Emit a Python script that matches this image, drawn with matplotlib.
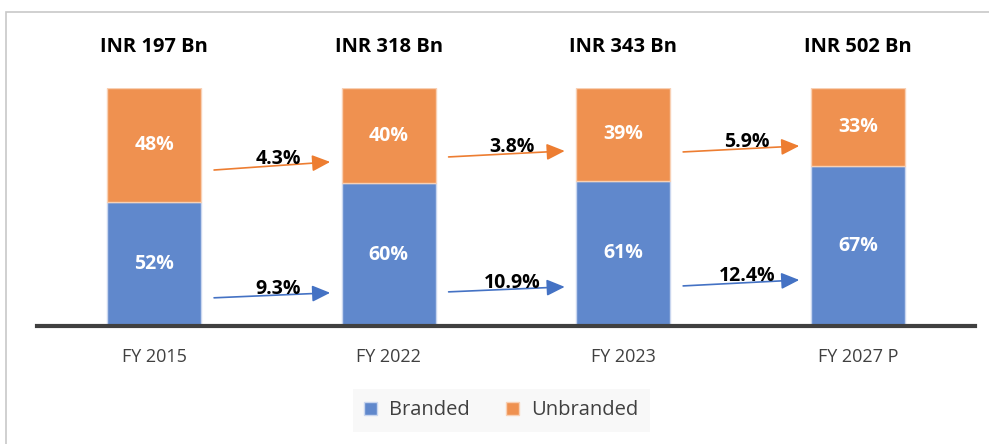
import matplotlib.pyplot as plt
import numpy as np
from matplotlib.patches import Rectangle

plt.rcParams['font.family'] = ['Open Sans', 'DejaVu Sans']

categories = ['FY 2015', 'FY 2022', 'FY 2023', 'FY 2027 P']
totals = ['INR 197 Bn', 'INR 318 Bn', 'INR 343 Bn', 'INR 502 Bn']
branded = [52, 60, 61, 67]
unbranded = [48, 40, 39, 33]
growth_unbranded = ['4.3%', '3.8%', '5.9%']
growth_branded = ['9.3%', '10.9%', '12.4%']

blue = '#6088cc'
orange = '#ef9150'
arrow_blue = '#4472c4'
arrow_orange = '#ed7d31'

fig = plt.figure(figsize=(9.89, 4.44), dpi=100)
ax = fig.add_axes([0.0374, 0.266, 0.9486, 0.536])

x = np.arange(len(categories))
ax.bar(x, branded, width=0.4, color=blue, edgecolor='#c9d6ef', linewidth=1, label='Branded')
ax.bar(x, unbranded, width=0.4, bottom=branded, color=orange, edgecolor='#f8d0b4', linewidth=1, label='Unbranded')

for i in range(len(categories)):
    ax.text(x[i], branded[i] / 2, f'{branded[i]}%', ha='center', va='center',
            color='white', fontsize=14, fontweight='bold')
    ax.text(x[i], branded[i] + unbranded[i] / 2, f'{unbranded[i]}%', ha='center', va='center',
            color='white', fontsize=14, fontweight='bold')
    ax.text(x[i], 117, totals[i], ha='center', va='center', color='black',
            fontsize=14.5, fontweight='bold')
    ax.text(x[i], -13, categories[i], ha='center', va='center', color='#404040', fontsize=13)

# arrow levels (layout only)
orange_lv = [(65.5, 68.9), (71.0, 73.5), (73.1, 75.6)]
blue_lv = [(11.8, 13.9), (14.3, 16.4), (16.8, 19.3)]

for i in range(3):
    x0, x1 = x[i] + 0.255, x[i] + 0.75
    for (y0, y1), col, lab in [(orange_lv[i], arrow_orange, growth_unbranded[i]),
                               (blue_lv[i], arrow_blue, growth_branded[i])]:
        ax.annotate('', xy=(x1, y1), xytext=(x0, y0),
                    arrowprops=dict(arrowstyle='-|>,head_length=1.1,head_width=0.5',
                                    color=col, lw=1.2, shrinkA=0, shrinkB=0))
        xm = x0 + 0.55 * (x1 - x0)
        ym = y0 + 0.55 * (y1 - y0)
        ax.text(xm, ym - 1.5, lab, ha='center', va='bottom', color='black',
                fontsize=14, fontweight='bold')

ax.set_xlim(-0.5, 3.5)
ax.set_ylim(0, 100)
for s in ['top', 'right', 'left']:
    ax.spines[s].set_visible(False)
ax.spines['bottom'].set_color('#404040')
ax.spines['bottom'].set_linewidth(3)
ax.set_xticks([])
ax.set_yticks([])

leg = fig.legend(loc='center', bbox_to_anchor=(0.507, 0.0755), ncol=2, frameon=True,
                 fontsize=14.5, handlelength=0.65, handleheight=0.65, handletextpad=0.6,
                 columnspacing=1.8, borderpad=0.55, borderaxespad=0, fancybox=False)
leg.get_frame().set_facecolor('#f7f7f7')
leg.get_frame().set_edgecolor('none')
for t in leg.get_texts():
    t.set_color('#404040')

fig.patches.append(Rectangle((0.006, -0.1), 1.1, 1.073, transform=fig.transFigure,
                             fill=False, edgecolor='#c8c8c8', linewidth=1.2))

fig.savefig('out.png', dpi=100)
